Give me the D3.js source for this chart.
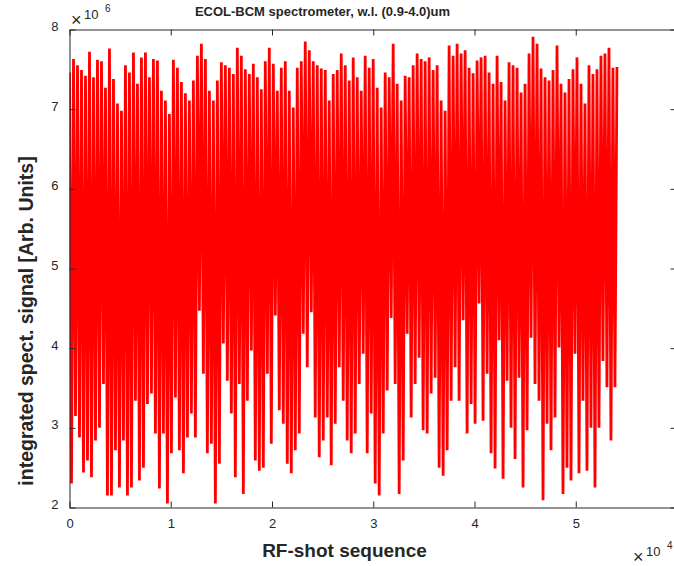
<!DOCTYPE html>
<html>
<head>
<meta charset="utf-8">
<script src="https://cdn.jsdelivr.net/npm/d3@7"></script>
<style>
  body { margin: 0; background: #fff; }
  text { font-family: "Liberation Sans", Arial, Helvetica, sans-serif; fill: #262626; }
</style>
</head>
<body>
<div id="chart"></div>
<script>
// signal, in units of 10^6, one upper and one lower
// extreme per ~400 shots (the real trace has ~54000 shots)
var nShots = 54070;

var peaks = [7.46,7.63,7.55,7.49,7.42,7.72,7.40,7.62,7.60,7.27,
  7.76,7.38,7.07,6.98,7.55,7.46,7.71,7.32,7.65,7.71,
  7.40,7.63,7.61,7.23,7.11,6.94,7.62,7.52,7.34,7.20,
  7.11,7.36,7.67,7.82,7.63,7.23,7.11,7.36,7.59,7.55,
  7.52,7.44,7.77,7.67,7.50,7.44,7.57,7.40,7.25,7.60,
  7.77,7.57,7.23,7.52,7.60,7.23,7.02,7.52,7.60,7.85,
  7.74,7.60,7.55,7.51,7.49,7.11,7.44,7.49,7.70,7.55,
  7.36,7.65,7.40,7.23,7.67,7.52,7.63,7.27,7.02,7.46,
  7.40,7.82,7.32,7.11,7.42,7.40,7.55,7.70,7.63,7.60,
  7.65,7.49,7.55,7.11,6.98,7.80,7.67,7.82,7.70,7.74,
  7.52,7.45,7.61,7.65,7.67,7.46,7.32,7.67,7.34,7.11,
  7.59,7.55,7.52,7.21,7.32,7.70,7.91,7.82,7.51,7.40,
  7.36,7.49,7.80,7.32,7.21,7.38,7.50,7.65,7.32,7.07,
  7.55,7.44,7.50,7.67,7.70,7.77,7.52,7.53];

var dips = [2.30,3.15,2.88,2.44,2.59,2.38,2.84,3.00,3.55,2.15,
  2.15,2.72,2.25,2.84,2.15,2.25,3.34,2.34,2.50,3.30,
  3.43,2.93,2.24,2.93,2.05,2.68,3.38,2.72,2.43,2.88,
  3.18,2.88,4.47,3.68,2.68,2.80,2.05,2.55,4.06,3.59,
  3.18,2.38,3.55,2.17,3.34,3.97,2.59,2.46,2.50,3.68,
  2.80,4.41,3.22,3.05,2.55,2.43,2.72,2.93,4.18,3.76,
  4.45,3.13,2.63,2.84,3.13,2.53,3.05,3.76,3.34,2.84,
  2.68,2.93,3.55,3.93,2.68,3.18,2.30,2.15,2.93,3.47,
  4.38,3.55,2.17,2.59,4.18,3.13,3.55,3.88,2.97,2.93,
  3.43,3.63,2.50,2.40,2.72,3.34,3.76,3.34,4.35,2.93,
  3.30,3.05,4.56,3.09,3.68,2.68,2.49,4.10,2.36,3.59,
  3.00,2.61,3.63,2.25,2.97,4.13,3.55,3.34,2.09,3.05,
  2.72,3.13,4.01,2.17,2.50,2.34,3.93,2.43,3.34,2.46,
  3.00,2.25,3.00,3.84,3.51,2.84,3.51];

var xTicks = [0, 1, 2, 3, 4, 5, 6];   // x 10^4
var yTicks = [2, 3, 4, 5, 6, 7, 8];   // x 10^6

// interleave upper / lower extremes into one trace
var signal = [];
peaks.forEach(function(p, i) {
  signal.push(p);
  if (i < dips.length) signal.push(dips[i]);
});
var step = nShots / (signal.length - 1);

var W = 674, H = 566;
var plotL = 69.5, plotR = 677, plotT = 29.5, plotB = 507.5;

var svg = d3.select("#chart").append("svg")
  .attr("width", W)
  .attr("height", H);

var x = d3.scaleLinear().domain([0, 60000]).range([plotL, plotR]);
var y = d3.scaleLinear().domain([2, 8]).range([plotB, plotT]);

svg.append("clipPath").attr("id", "plot")
  .append("rect")
  .attr("x", plotL).attr("y", plotT)
  .attr("width", plotR - plotL).attr("height", plotB - plotT);

var line = d3.line()
  .x(function(d, i) { return x(i * step); })
  .y(function(d) { return y(d); });

svg.append("path")
  .datum(signal)
  .attr("clip-path", "url(#plot)")
  .attr("fill", "none")
  .attr("stroke", "#ff0000")
  .attr("stroke-width", 2.8)
  .attr("stroke-linejoin", "bevel")
  .attr("d", line);

// axes (MATLAB style box, ticks inward)
function styleAxis(g) {
  g.select(".domain").attr("stroke", "#262626");
  g.selectAll(".tick line").attr("stroke", "#262626");
  g.selectAll(".tick text").style("font-size", "13px").attr("fill", "#262626");
}

svg.append("g")
  .attr("transform", "translate(0," + plotB + ")")
  .call(d3.axisBottom(x).tickValues(xTicks.map(function(d) { return d * 1e4; }))
    .tickFormat(function(d) { return d / 1e4; })
    .tickSizeInner(-6).tickSizeOuter(0).tickPadding(11))
  .call(styleAxis);

svg.append("g")
  .attr("transform", "translate(0," + plotT + ")")
  .call(d3.axisTop(x).tickValues(xTicks.map(function(d) { return d * 1e4; }))
    .tickFormat("").tickSizeInner(-6).tickSizeOuter(0))
  .call(styleAxis);

svg.append("g")
  .attr("transform", "translate(" + plotL + ",0)")
  .call(d3.axisLeft(y).tickValues(yTicks).tickFormat(d3.format("d"))
    .tickSizeInner(-6).tickSizeOuter(0).tickPadding(11))
  .call(styleAxis)
  .selectAll(".tick text").attr("dy", "0.08em");

svg.append("g")
  .attr("transform", "translate(" + (plotR - 0.5) + ",0)")
  .call(d3.axisRight(y).tickValues(yTicks)
    .tickFormat("").tickSizeInner(-6).tickSizeOuter(0))
  .call(styleAxis);

// exponent labels
function exponent(x0, yBase, power) {
  svg.append("text").attr("x", x0).attr("y", yBase + 6.5)
    .style("font-size", "18px").text("\u00d7");
  svg.append("text").attr("x", x0 + 13).attr("y", yBase)
    .style("font-size", "13px").text("10");
  svg.append("text").attr("x", x0 + 34).attr("y", yBase - 7)
    .style("font-size", "10px").text(power);
}
exponent(71, 19, "6");
exponent(633, 556, "4");

// title and axis labels
svg.append("text")
  .attr("x", 322.5).attr("y", 16)
  .attr("text-anchor", "middle")
  .style("font-size", "13px").style("font-weight", "bold")
  .text("ECOL-BCM spectrometer, w.l. (0.9-4.0)um");

svg.append("text")
  .attr("x", 344.5).attr("y", 557)
  .attr("text-anchor", "middle")
  .style("font-size", "19px").style("font-weight", "bold")
  .text("RF-shot sequence");

svg.append("text")
  .attr("transform", "translate(33,321) rotate(-90)")
  .attr("text-anchor", "middle")
  .style("font-size", "19.5px").style("font-weight", "bold")
  .text("integrated spect. signal [Arb. Units]");
</script>
</body>
</html>
